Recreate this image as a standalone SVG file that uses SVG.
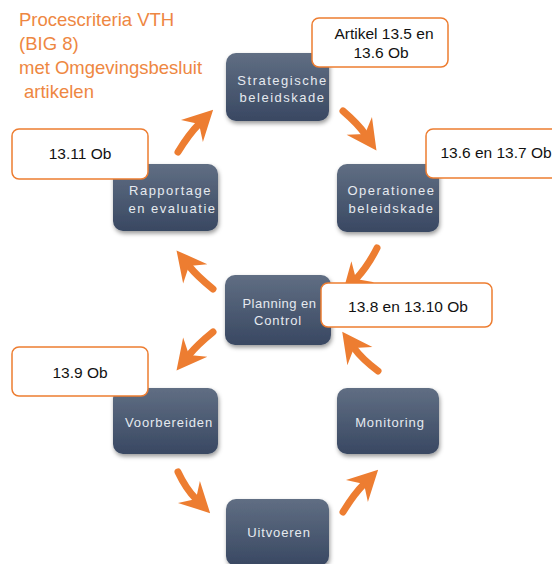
<svg xmlns="http://www.w3.org/2000/svg" width="552" height="564" viewBox="0 0 552 564">
  <style>
    .node rect { fill: url(#ng); filter: url(#sh); }
    .node text { font-family: "Liberation Sans", Arial, sans-serif; font-size: 13px; fill: #E6EAF0; text-anchor: middle; }
    .sp { letter-spacing: 1.5px; }
    .sn { letter-spacing: 0.9px; }
    .callout rect { fill: #FFFFFF; stroke: #ED7D31; stroke-width: 1.5; }
    .callout text { font-family: "Liberation Sans", Arial, sans-serif; font-size: 15.5px; fill: #111111; text-anchor: middle; }
    .title text { font-family: "Liberation Sans", Arial, sans-serif; font-size: 18.5px; fill: #EE8742; }
    .arr { fill: none; stroke: #ED7D31; stroke-width: 7; stroke-linecap: round; marker-end: url(#ah); }
  </style>
  <defs>
    <linearGradient id="ng" x1="0" y1="0" x2="0" y2="1">
      <stop offset="0" stop-color="#606E83"/>
      <stop offset="1" stop-color="#394862"/>
    </linearGradient>
    <filter id="sh" x="-20%" y="-20%" width="140%" height="150%">
      <feDropShadow dx="1" dy="2.5" stdDeviation="2" flood-color="#000" flood-opacity="0.4"/>
    </filter>
    <marker id="ah" viewBox="0 0 40 40" refX="10" refY="20" markerWidth="40" markerHeight="40" markerUnits="userSpaceOnUse" orient="auto" overflow="visible">
      <path d="M10,20 L0,4.5 L30,20 L0,35.5 Z" fill="#ED7D31"/>
    </marker>
  </defs>

  <g class="title">
    <text x="19" y="26">Procescriteria VTH</text>
    <text x="19" y="50">(BIG 8)</text>
    <text x="19" y="74">met Omgevingsbesluit</text>
    <text x="24" y="98">artikelen</text>
  </g>

  <g id="n-strategisch" class="node">
    <rect x="226" y="53" width="103" height="68" rx="10"/>
    <text x="282.5" y="85" class="sp">Strategische</text>
    <text x="282.5" y="102" class="sp">beleidskade</text>
  </g>
  <g id="n-operationeel" class="node">
    <rect x="337" y="164" width="102" height="68" rx="10"/>
    <text x="391.5" y="195" class="sp">Operationee</text>
    <text x="391.5" y="213" class="sp">beleidskade</text>
  </g>
  <g id="n-rapportage" class="node">
    <rect x="113" y="164" width="105" height="67" rx="10"/>
    <text x="170.5" y="195" class="sp">Rapportage</text>
    <text x="172.5" y="213" class="sp">en evaluatie</text>
  </g>
  <g id="n-planning" class="node">
    <rect x="225" y="275" width="106" height="70" rx="10"/>
    <text x="279.5" y="308" style="letter-spacing:0.5px">Planning en</text>
    <text x="278" y="325" class="sn">Control</text>
  </g>
  <g id="n-voorbereiden" class="node">
    <rect x="113" y="388" width="105" height="66" rx="10"/>
    <text x="169" y="427" class="sn">Voorbereiden</text>
  </g>
  <g id="n-monitoring" class="node">
    <rect x="337" y="388" width="102" height="66" rx="10"/>
    <text x="390" y="427" class="sn">Monitoring</text>
  </g>
  <g id="n-uitvoeren" class="node">
    <rect x="226" y="499" width="103" height="67" rx="10"/>
    <text x="279" y="537" class="sn">Uitvoeren</text>
  </g>

  <g id="connectors">
    <path class="arr" d="M178,152 Q189,134 199,124"/>
    <path class="arr" d="M343,111 Q358,124 365,134"/>
    <path class="arr" d="M377,248 Q368,266 356,279"/>
    <path class="arr" d="M378,371 Q362,359 354,348"/>
    <path class="arr" d="M213,289 Q197,276 189,266"/>
    <path class="arr" d="M213,332 Q197,345 189,355"/>
    <path class="arr" d="M178,472 Q186,489 196,499"/>
    <path class="arr" d="M343,512 Q354,494 364,484"/>
  </g>

  <g id="c-artikel" class="callout">
    <rect x="312" y="18" width="136" height="49" rx="7"/>
    <text x="384" y="39">Artikel 13.5 en</text>
    <text x="381" y="58">13.6 Ob</text>
  </g>
  <g id="c-1311" class="callout">
    <rect x="12" y="129" width="136" height="50" rx="7"/>
    <text x="80" y="159">13.11 Ob</text>
  </g>
  <g id="c-136" class="callout">
    <rect x="426" y="129" width="140" height="49" rx="7"/>
    <text x="496" y="158">13.6 en 13.7 Ob</text>
  </g>
  <g id="c-138" class="callout">
    <rect x="321" y="283" width="171" height="44" rx="7"/>
    <text x="408" y="312">13.8 en 13.10 Ob</text>
  </g>
  <g id="c-139" class="callout">
    <rect x="12" y="347" width="136" height="49" rx="7"/>
    <text x="80" y="378">13.9 Ob</text>
  </g>
</svg>
